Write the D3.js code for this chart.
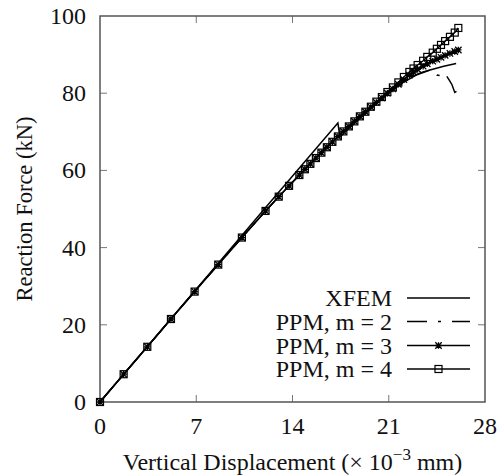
<!DOCTYPE html>
<html>
<head>
<meta charset="utf-8">
<script src="https://cdn.jsdelivr.net/npm/d3@7"></script>
<style>
  body { margin: 0; background: #fff; }
  text { font-family: "Liberation Serif", "DejaVu Serif", serif; fill: #111; }
</style>
</head>
<body>
<svg id="chart" width="500" height="475"></svg>
<script>
'use strict';

// tick labels
let xTicks = [0, 7, 14, 21, 28]
let yTicks = [0, 20, 40, 60, 80, 100]

// XFEM
let dispXfem = [0, 4, 8, 12, 17.3, 17.45, 18.1, 19.0, 20.0, 21.0, 22.0, 23.0, 24.0, 25.0, 25.9]
let forceXfem = [0, 16.7, 33.4, 50.2, 72.3, 68.6, 70.9, 73.8, 77.0, 80.0, 82.7, 84.7, 86.0, 87.0, 87.7]

// PPM, m = 2
let dispM2 = [0, 1.72, 3.44, 5.16, 6.88, 8.6, 10.32, 12.04, 13.0, 13.75, 14.5, 15.3, 16.1, 16.9, 17.7,
    18.5, 19.3, 20.1, 20.9, 21.7, 22.5, 23.0, 23.5, 24.0, 24.3, 24.5, 24.8, 25.1, 25.4, 25.6, 25.8, 26.06]
let forceM2 = [0, 7.2, 14.3, 21.5, 28.6, 35.6, 42.6, 49.5, 53.2, 56.0, 58.8, 61.7, 64.6, 67.4, 70.1,
    72.7, 75.2, 77.7, 80.0, 82.2, 84.0, 84.8, 85.5, 86.0, 85.6, 84.7, 84.5, 85.0, 83.4, 82.2, 80.2, 80.8]

// PPM, m = 3
let dispM3 = [0, 1.72, 3.44, 5.16, 6.88, 8.6, 10.32, 12.04, 13.0, 13.75, 14.5, 14.9, 15.3, 15.7, 16.1,
    16.5, 16.9, 17.3, 17.7, 18.1, 18.5, 18.9, 19.3, 19.7, 20.1, 20.5, 20.9, 21.3, 21.7, 22.1, 22.5, 22.8,
    23.1, 23.5, 23.8, 24.2, 24.5, 24.8, 25.1, 25.45, 25.8, 26.06]
let forceM3 = [0, 7.2, 14.3, 21.5, 28.6, 35.6, 42.6, 49.5, 53.2, 56.0, 58.8, 60.3, 61.7, 63.2, 64.6,
    66.0, 67.4, 68.8, 70.1, 71.4, 72.7, 74.0, 75.2, 76.4, 77.6, 78.8, 80.0, 81.1, 82.3, 83.5, 84.7, 85.5,
    86.2, 87.0, 87.6, 88.3, 88.8, 89.3, 89.8, 90.3, 90.8, 91.2]

// PPM, m = 4
let dispM4 = dispM3.slice()
let forceM4 = [0, 7.2, 14.3, 21.5, 28.6, 35.6, 42.6, 49.5, 53.2, 56.0, 58.8, 60.3, 61.7, 63.2, 64.6,
    66.0, 67.4, 68.8, 70.1, 71.4, 72.7, 74.0, 75.2, 76.5, 77.8, 79.0, 80.3, 81.5, 82.8, 84.2, 85.5, 86.4,
    87.3, 88.4, 89.4, 90.5, 91.5, 92.5, 93.5, 94.6, 95.7, 96.9]

let seriesNames = ['XFEM', 'PPM, m = 2', 'PPM, m = 3', 'PPM, m = 4']

let chart = (function() {
    let svg = d3.select('#chart')
    let x = d3.scaleLinear().domain([0, 28]).range([100, 485])
    let y = d3.scaleLinear().domain([0, 100]).range([402, 16])
    let axisColor = '#555'
    let fontSize = 24

    function zip(xs, ys) {
        return xs.map(function(v, i) { return [v, ys[i]] })
    }

    let series = [
        { name: seriesNames[0], data: zip(dispXfem, forceXfem), dash: null, marker: null },
        { name: seriesNames[1], data: zip(dispM2, forceM2), dash: '20,9,3,9', marker: null },
        { name: seriesNames[2], data: zip(dispM3, forceM3), dash: null, marker: 'star' },
        { name: seriesNames[3], data: zip(dispM4, forceM4), dash: null, marker: 'square' }
    ]

    function drawAxes() {
        let g = svg.append('g')
        let tickLen = 7

        g.selectAll('.xt').data(xTicks.slice(1, -1)).enter().append('g')
            .each(function(d) {
                let s = d3.select(this)
                s.append('line').attr('x1', x(d)).attr('x2', x(d)).attr('y1', y(0)).attr('y2', y(0) - tickLen)
                s.append('line').attr('x1', x(d)).attr('x2', x(d)).attr('y1', y(100)).attr('y2', y(100) + tickLen)
            })
            .selectAll('line').attr('stroke', '#777').attr('stroke-width', 1)

        g.selectAll('.yt').data(yTicks.slice(1, -1)).enter().append('g')
            .each(function(d) {
                let s = d3.select(this)
                s.append('line').attr('x1', x(0)).attr('x2', x(0) + tickLen).attr('y1', y(d)).attr('y2', y(d))
                s.append('line').attr('x1', x(28)).attr('x2', x(28) - tickLen).attr('y1', y(d)).attr('y2', y(d))
            })
            .selectAll('line').attr('stroke', '#777').attr('stroke-width', 1)

        g.append('rect')
            .attr('x', x(0)).attr('y', y(100))
            .attr('width', x(28) - x(0)).attr('height', y(0) - y(100))
            .attr('fill', 'none').attr('stroke', axisColor).attr('stroke-width', 1.5)

        g.selectAll('.xl').data(xTicks).enter().append('text')
            .attr('x', function(d) { return x(d) })
            .attr('y', 434)
            .attr('text-anchor', 'middle')
            .attr('font-size', fontSize)
            .text(function(d) { return d })

        g.selectAll('.yl').data(yTicks).enter().append('text')
            .attr('x', 86)
            .attr('y', function(d) { return y(d) + 8 })
            .attr('text-anchor', 'end')
            .attr('font-size', fontSize)
            .text(function(d) { return d })

        g.append('text')
            .attr('transform', 'translate(32,' + ((y(0) + y(100)) / 2) + ') rotate(-90)')
            .attr('text-anchor', 'middle')
            .attr('font-size', 22.5)
            .text('Reaction Force (kN)')

        let xt = g.append('text')
            .attr('x', (x(0) + x(28)) / 2)
            .attr('y', 470)
            .attr('text-anchor', 'middle')
            .attr('font-size', fontSize)
        xt.append('tspan').text('Vertical Displacement (\u00d7 10')
        xt.append('tspan').attr('dy', -10).attr('font-size', 17).text('\u22123')
        xt.append('tspan').attr('dy', 10).text(' mm)')
    }

    function drawMarker(sel, type, cx, cy) {
        if (type === 'square') {
            sel.append('rect')
                .attr('x', cx - 3.5).attr('y', cy - 3.5)
                .attr('width', 7).attr('height', 7)
                .attr('fill', 'none').attr('stroke', '#000').attr('stroke-width', 1.2)
        } else if (type === 'star') {
            let r = 3.2
            let p = 'M' + (cx - r) + ',' + cy + 'H' + (cx + r) +
                'M' + cx + ',' + (cy - r) + 'V' + (cy + r) +
                'M' + (cx - r) + ',' + (cy - r) + 'L' + (cx + r) + ',' + (cy + r) +
                'M' + (cx - r) + ',' + (cy + r) + 'L' + (cx + r) + ',' + (cy - r)
            sel.append('path').attr('d', p).attr('stroke', '#000').attr('stroke-width', 1.3)
        }
    }

    function drawSeries() {
        let line = d3.line()
            .x(function(d) { return x(d[0]) })
            .y(function(d) { return y(d[1]) })

        series.forEach(function(s) {
            let g = svg.append('g').attr('class', 'series')
            g.append('path')
                .datum(s.data)
                .attr('d', line)
                .attr('fill', 'none')
                .attr('stroke', '#000')
                .attr('stroke-width', 1.5)
                .attr('stroke-dasharray', s.dash)
            if (s.marker) {
                s.data.forEach(function(d) {
                    drawMarker(g, s.marker, x(d[0]), y(d[1]))
                })
            }
        })
    }

    function drawLegend() {
        let g = svg.append('g').attr('class', 'legend')
        let rowY = [298, 321.5, 345.5, 369]
        series.forEach(function(s, i) {
            g.append('text')
                .attr('x', 392)
                .attr('y', rowY[i] + 8)
                .attr('text-anchor', 'end')
                .attr('font-size', fontSize)
                .text(s.name)
            g.append('line')
                .attr('x1', 407).attr('x2', 470)
                .attr('y1', rowY[i]).attr('y2', rowY[i])
                .attr('stroke', '#000').attr('stroke-width', 1.5)
                .attr('stroke-dasharray', s.dash ? '20,11,3,11' : null)
            if (s.marker) drawMarker(g, s.marker, 438.5, rowY[i])
        })
    }

    function render() {
        drawAxes()
        drawSeries()
        drawLegend()
    }

    return { render }
}())

chart.render()
</script>
</body>
</html>
